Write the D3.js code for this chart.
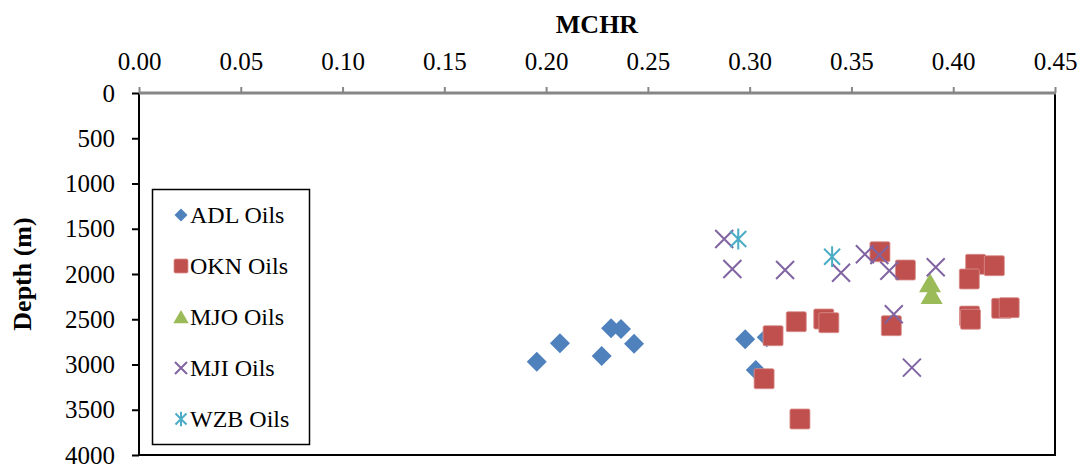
<!DOCTYPE html>
<html>
<head>
<meta charset="utf-8">
<script src="https://cdn.jsdelivr.net/npm/d3@7"></script>
<style>
  html, body { margin: 0; padding: 0; background: #fff; }
  svg { display: block; }
  text { font-family: "Times New Roman", "Liberation Serif", serif; fill: #000; }
</style>
</head>
<body>
<svg id="chart" width="1082" height="466"></svg>
<script>
// ---- data ----
const xTicks = [0, 0.05, 0.10, 0.15, 0.20, 0.25, 0.30, 0.35, 0.40, 0.45];
const yTicks = [0, 500, 1000, 1500, 2000, 2500, 3000, 3500, 4000];

const adlX = [0.1954, 0.2068, 0.2273, 0.2319, 0.2368, 0.2432, 0.2978, 0.3084, 0.3030];
const adlY = [2969, 2766, 2906, 2600, 2608, 2770, 2722, 2700, 3061];

const oknX = [0.3640, 0.3765, 0.4110, 0.4202, 0.4079, 0.3229, 0.3364, 0.3389, 0.3115, 0.3071, 0.3247, 0.3696, 0.4080, 0.4085, 0.4238, 0.4275];
const oknY = [1754, 1956, 1893, 1908, 2055, 2527, 2497, 2538, 2682, 3157, 3602, 2571, 2465, 2500, 2379, 2372];

const mjoX = [0.3886, 0.3894];
const mjoY = [2103, 2232];

const mjiX = [0.2875, 0.2915, 0.3174, 0.3449, 0.3566, 0.3637, 0.3686, 0.3914, 0.3708, 0.3797];
const mjiY = [1613, 1945, 1956, 1986, 1782, 1790, 1964, 1926, 2445, 3035];

const wzbX = [0.2944, 0.3405];
const wzbY = [1613, 1809];

const seriesNames = ["ADL Oils", "OKN Oils", "MJO Oils", "MJI Oils", "WZB Oils"];

// ---- layout ----
const svg = d3.select("#chart");
const pL = 139, pR = 1055, pT = 93, pB = 455;
const x = d3.scaleLinear().domain([0, 0.45]).range([pL, pR]);
const y = d3.scaleLinear().domain([0, 4000]).range([pT, pB]);

const colors = {
  adl: "#4F81BD", okn: "#C0504D", mjo: "#9BBB59", mji: "#8064A2", wzb: "#4BACC6"
};

// plot border (right and bottom)
svg.append("line").attr("x1", pR).attr("x2", pR).attr("y1", pT).attr("y2", pB + 1)
  .attr("stroke", "#000").attr("stroke-width", 2);
svg.append("line").attr("x1", pL).attr("x2", pR + 1).attr("y1", pB).attr("y2", pB)
  .attr("stroke", "#000").attr("stroke-width", 2);

// y axis
const yAxis = svg.append("g").attr("transform", `translate(${pL},0)`)
  .call(d3.axisLeft(y).tickValues(yTicks).tickSize(7).tickPadding(17).tickFormat(d3.format("d")));
yAxis.select(".domain").attr("stroke", "#000").attr("stroke-width", 2).attr("d", `M0,${pT}V${pB + 1}`);
yAxis.selectAll(".tick line").attr("stroke", "#000").attr("stroke-width", 2);
yAxis.selectAll("text").attr("font-size", 25).attr("font-family", "'Times New Roman','Liberation Serif',serif").attr("fill", "#000");

// x axis (top)
const xAxis = svg.append("g").attr("transform", `translate(0,${pT})`)
  .call(d3.axisTop(x).tickValues(xTicks).tickSize(6).tickPadding(17).tickFormat(d3.format(".2f")));
xAxis.select(".domain").attr("stroke", "#868686").attr("stroke-width", 3).attr("d", `M${pL},0H${pR + 1}`);
xAxis.selectAll(".tick line").attr("stroke", "#868686").attr("stroke-width", 2);
xAxis.selectAll("text").attr("font-size", 25).attr("font-family", "'Times New Roman','Liberation Serif',serif").attr("fill", "#000");

// titles
svg.append("text").attr("x", 597).attr("y", 33).attr("text-anchor", "middle")
  .attr("font-size", 26).attr("font-weight", "bold").text("MCHR");
svg.append("text").attr("transform", `translate(31,${(pT + pB) / 2}) rotate(-90)`)
  .attr("text-anchor", "middle").attr("font-size", 26).attr("font-weight", "bold").text("Depth (m)");

// ---- marker shapes ----
function diamond(g, s, c) {
  g.append("path").attr("d", `M0,${-s}L${s},0L0,${s}L${-s},0Z`).attr("fill", c);
}
function square(g, s, c) {
  g.append("rect").attr("x", -s).attr("y", -s).attr("width", 2 * s).attr("height", 2 * s)
    .attr("rx", 1.5).attr("fill", c).attr("stroke", "#D8908E").attr("stroke-width", 0.8);
}
function triangle(g, s, c) {
  g.append("path").attr("d", `M0,${-s}L${s * 1.1},${s * 0.9}L${-s * 1.1},${s * 0.9}Z`).attr("fill", c);
}
function cross(g, s, c) {
  g.append("path").attr("d", `M${-s},${-s}L${s},${s}M${-s},${s}L${s},${-s}`)
    .attr("stroke", c).attr("stroke-width", 2).attr("fill", "none");
}
function star(g, s, c) {
  g.append("path").attr("d", `M${-s},${-s}L${s},${s}M${-s},${s}L${s},${-s}M0,${-s * 1.3}L0,${s * 1.3}`)
    .attr("stroke", c).attr("stroke-width", 2).attr("fill", "none");
}

function plot(xs, ys, fn, s, c) {
  const g = svg.append("g");
  xs.forEach((v, i) => {
    const m = g.append("g").attr("transform", `translate(${x(v)},${y(ys[i])})`);
    fn(m, s, c);
  });
}

plot(adlX, adlY, diamond, 10, colors.adl);
plot(oknX, oknY, square, 10, colors.okn);
plot(mjoX, mjoY, triangle, 10, colors.mjo);
plot(mjiX, mjiY, cross, 9, colors.mji);
plot(wzbX, wzbY, star, 8, colors.wzb);

// ---- legend ----
const lg = svg.append("g");
lg.append("rect").attr("x", 152.5).attr("y", 189.5).attr("width", 157).attr("height", 255)
  .attr("fill", "#fff").attr("stroke", "#000").attr("stroke-width", 1.5);
const legendFns = [diamond, square, triangle, cross, star];
const legendCols = [colors.adl, colors.okn, colors.mjo, colors.mji, colors.wzb];
const legendSizes = [6.5, 7, 7, 6, 5.5];
seriesNames.forEach((n, i) => {
  const cy = 215 + i * 51;
  const m = lg.append("g").attr("transform", `translate(181,${cy})`);
  legendFns[i](m, legendSizes[i], legendCols[i]);
  lg.append("text").attr("x", 190).attr("y", cy).attr("dy", "0.35em")
    .attr("font-size", 24).text(n);
});
</script>
</body>
</html>
